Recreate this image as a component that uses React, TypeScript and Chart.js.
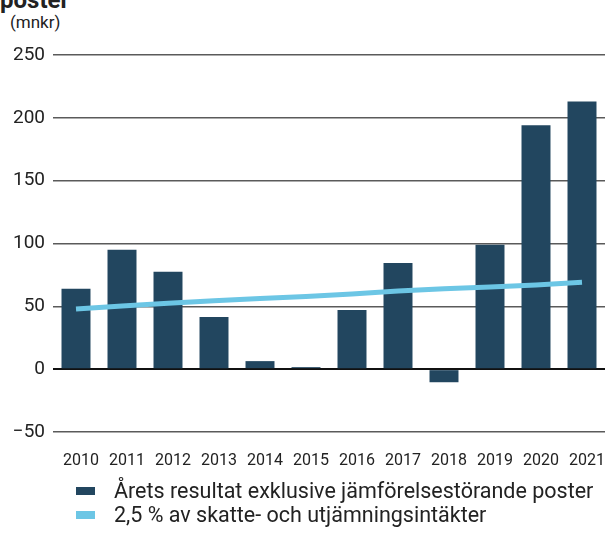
import React, { useEffect, useRef } from "react";
import { Chart, registerables } from "chart.js";

Chart.register(...registerables);

const years = ["2010", "2011", "2012", "2013", "2014", "2015", "2016", "2017", "2018", "2019", "2020", "2021"];
const resultValues = [64, 95, 77.5, 41.5, 6.4, 1.6, 47, 84.5, -10.4, 99, 194, 213];
const thresholdValues = [47.8, 50.2, 52.4, 54.5, 56.2, 57.8, 59.8, 62.2, 64, 65.4, 67, 69.1];
const resultLabel = "Årets resultat exklusive jämförelsestörande poster";
const thresholdLabel = "2,5 % av skatte- och utjämningsintäkter";
const barColor = "#22465f";
const lineColor = "#6cc6e5";
const FONT = "Roboto, 'Noto Sans', sans-serif";

export default function App() {
  const ref = useRef<HTMLCanvasElement | null>(null);

  useEffect(() => {
    if (!ref.current) return;
    const chart = new Chart(ref.current, {
      type: "bar",
      data: {
        labels: years,
        datasets: [
          {
            type: "line",
            label: thresholdLabel,
            data: thresholdValues,
            borderColor: lineColor,
            backgroundColor: lineColor,
            borderWidth: 5,
            pointRadius: 0,
            tension: 0,
            order: 0,
          } as any,
          {
            type: "bar",
            label: resultLabel,
            data: resultValues,
            backgroundColor: barColor,
            barPercentage: 0.63,
            categoryPercentage: 1,
            order: 1,
          },
        ],
      },
      options: {
        animation: false,
        responsive: false,
        maintainAspectRatio: false,
        layout: { padding: { top: 55, bottom: 0, left: 0, right: 1 } },
        plugins: {
          legend: { display: false },
          tooltip: { enabled: false },
          title: { display: false },
        },
        scales: {
          x: {
            afterFit: (scale: any) => {
              scale.height = 48;
            },
            grid: { display: true, drawOnChartArea: false, drawTicks: true, tickLength: 19, color: "rgba(0,0,0,0)" },
            border: { display: false },
            ticks: {
              color: "#222",
              font: { family: FONT, size: 16 },
              padding: 0,
              labelOffset: 5,
              maxRotation: 0,
              autoSkip: false,
            },
          },
          y: {
            min: -50,
            max: 250,
            afterFit: (scale: any) => {
              scale.width = 53;
            },
            grid: {
              drawTicks: false,
              color: (ctx: any) => (ctx.tick && ctx.tick.value === 0 ? "#111" : "#5a5a5a"),
              lineWidth: (ctx: any) => (ctx.tick && ctx.tick.value === 0 ? 2 : 1.5),
            },
            border: { display: false },
            ticks: {
              stepSize: 50,
              color: "#222",
              font: { family: FONT, size: 19 },
              padding: 8,
              callback: (v: any) => (Number(v) < 0 ? "\u2212" + Math.abs(Number(v)) : String(v)),
            },
          },
        },
      },
    });
    return () => chart.destroy();
  }, []);

  return (
    <div style={{ position: "absolute", left: 0, top: 0, width: 606, height: 533, overflow: "hidden", background: "#fff", fontFamily: FONT, color: "#222" }}>
      <div style={{ position: "absolute", left: 0, top: -12, fontSize: 24, lineHeight: "24px", fontWeight: 700, whiteSpace: "nowrap" }}>poster</div>
      <div style={{ position: "absolute", left: 10, top: 12, fontSize: 17, lineHeight: "20px", whiteSpace: "nowrap" }}>(mnkr)</div>
      <canvas ref={ref} width={606} height={480} style={{ position: "absolute", left: 0, top: 0, width: 606, height: 480 }} />
      <div style={{ position: "absolute", left: 76, top: 479, fontSize: 21.5, lineHeight: "24px", whiteSpace: "nowrap" }}>
        <div style={{ display: "flex", alignItems: "center", height: 24 }}>
          <span style={{ display: "inline-block", width: 19, height: 8, background: barColor, marginRight: 19 }} />
          <span>{resultLabel}</span>
        </div>
        <div style={{ display: "flex", alignItems: "center", height: 24, marginTop: 0 }}>
          <span style={{ display: "inline-block", width: 19, height: 8, background: lineColor, marginRight: 19 }} />
          <span>{thresholdLabel}</span>
        </div>
      </div>
    </div>
  );
}
